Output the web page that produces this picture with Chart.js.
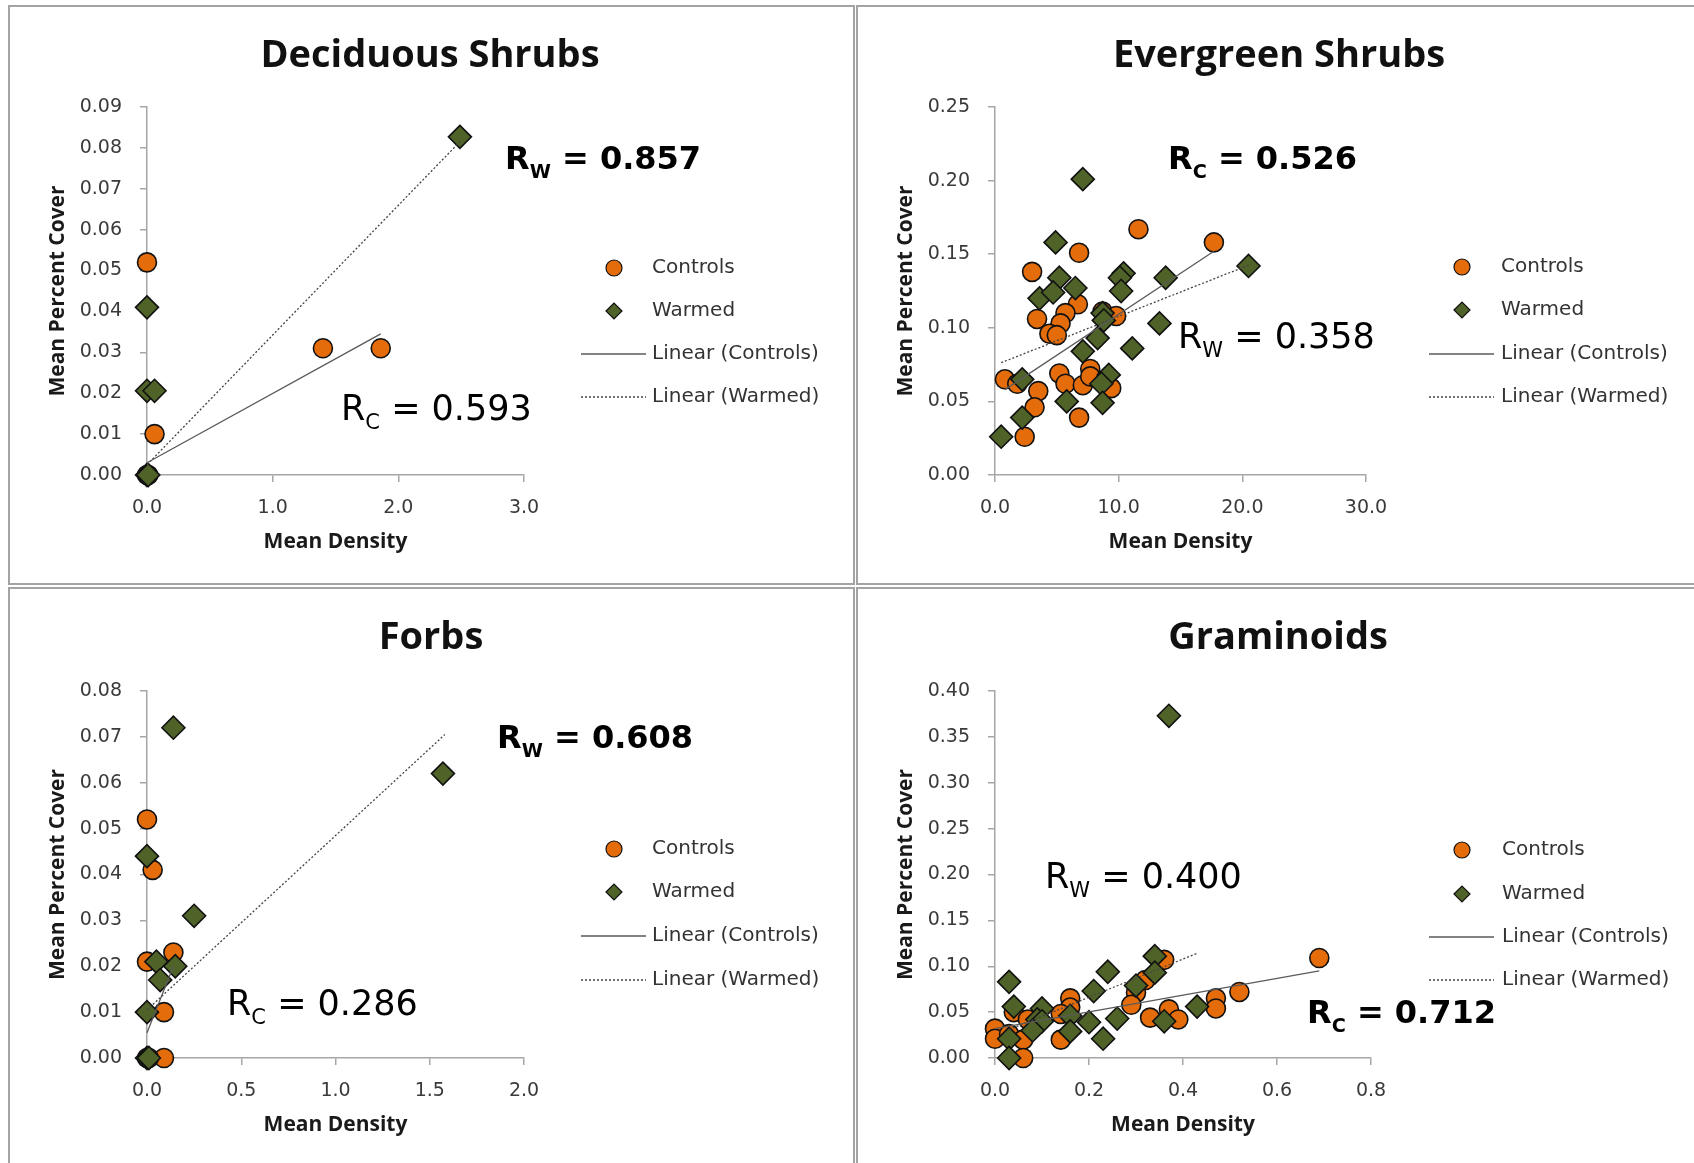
<!DOCTYPE html>
<html>
<head>
<meta charset="utf-8">
<script src="https://cdn.jsdelivr.net/npm/chart.js@4.4.1/dist/chart.umd.min.js"></script>
<style>
  html, body { margin: 0; padding: 0; background: #fff; }
  body { width: 1694px; height: 1163px; position: relative; overflow: hidden; }
  .panel { position: absolute; border: 2px solid #a3a3a3; box-sizing: border-box; }
  canvas { position: absolute; }
  .title { position: absolute; width: 600px; text-align: center; font: bold 38px 'Open Sans', sans-serif; line-height: 38px; color: #111; }
  .r { position: absolute; font-family: 'DejaVu Sans', sans-serif; color: #000; white-space: nowrap; line-height: 1; }
  .r.n { font-size: 35px; }
  .r.b { font-size: 32px; font-weight: bold; }
  .r span { font-size: 0.6em; vertical-align: -0.45em; }
</style>
</head>
<body>
<div class="panel" style="left:8px;top:5px;width:847px;height:580px"></div>
<div class="panel" style="left:856px;top:5px;width:900px;height:580px"></div>
<div class="panel" style="left:8px;top:587px;width:847px;height:600px"></div>
<div class="panel" style="left:856px;top:587px;width:900px;height:600px"></div>

<canvas id="c1" width="855" height="585" style="left:0;top:0"></canvas>
<canvas id="c2" width="839" height="585" style="left:855px;top:0"></canvas>
<canvas id="c3" width="855" height="576" style="left:0;top:587px"></canvas>
<canvas id="c4" width="839" height="576" style="left:855px;top:587px"></canvas>

<div class="title" style="left:130px;top:33px">Deciduous Shrubs</div>
<div class="title" style="left:979px;top:33px">Evergreen Shrubs</div>
<div class="title" style="left:131px;top:615px">Forbs</div>
<div class="title" style="left:978px;top:615px">Graminoids</div>

<div class="r b" style="left:505px;top:142px">R<span>W</span> = 0.857</div>
<div class="r n" style="left:341px;top:391px">R<span>C</span> = 0.593</div>
<div class="r b" style="left:1168px;top:142px">R<span>C</span> = 0.526</div>
<div class="r n" style="left:1178px;top:319px">R<span>W</span> = 0.358</div>
<div class="r b" style="left:497px;top:721px">R<span>W</span> = 0.608</div>
<div class="r n" style="left:227px;top:986px">R<span>C</span> = 0.286</div>
<div class="r n" style="left:1045px;top:859px">R<span>W</span> = 0.400</div>
<div class="r b" style="left:1307px;top:996px">R<span>C</span> = 0.712</div>

<script>
// ---- Deciduous shrubs ----
const decControlsX = [0.00, 0.06, 1.40, 1.86, 0.00, 0.01];
const decControlsY = [0.052, 0.010, 0.031, 0.031, 0.000, 0.000];
const decWarmedX = [2.49, 0.00, 0.00, 0.06, 0.00, 0.01];
const decWarmedY = [0.0827, 0.041, 0.0206, 0.0206, 0.000, 0.000];
const decTrendControlsX = [0.00, 1.86];
const decTrendControlsY = [0.0030, 0.0345];
const decTrendWarmedX = [0.00, 2.49];
const decTrendWarmedY = [0.0025, 0.0815];
const decXTicks = [0, 1, 2, 3];
const decYTicks = [0, 0.01, 0.02, 0.03, 0.04, 0.05, 0.06, 0.07, 0.08, 0.09];

// ---- Evergreen shrubs ----
const evgControlsX = [11.6, 17.7, 6.8, 3.0, 6.7, 5.7, 3.4, 5.3, 4.4, 5.0, 8.7, 9.8, 0.8, 1.8, 3.5, 3.2, 2.4, 6.8, 5.2, 5.7, 7.1, 7.7, 7.7, 9.4];
const evgControlsY = [0.167, 0.158, 0.151, 0.138, 0.116, 0.110, 0.106, 0.103, 0.096, 0.095, 0.111, 0.108, 0.065, 0.062, 0.057, 0.046, 0.026, 0.039, 0.069, 0.062, 0.061, 0.072, 0.067, 0.059];
const evgWarmedX = [7.1, 4.9, 5.2, 3.6, 4.7, 6.5, 10.4, 10.1, 10.2, 13.8, 20.5, 13.3, 8.7, 8.8, 8.3, 7.1, 11.1, 2.2, 9.2, 8.6, 5.8, 8.7, 2.2, 0.5];
const evgWarmedY = [0.201, 0.158, 0.134, 0.120, 0.124, 0.127, 0.137, 0.134, 0.125, 0.134, 0.142, 0.103, 0.110, 0.105, 0.093, 0.084, 0.086, 0.065, 0.068, 0.062, 0.050, 0.049, 0.039, 0.026];
const evgTrendControlsX = [0.8, 17.7];
const evgTrendControlsY = [0.058, 0.152];
const evgTrendWarmedX = [0.5, 20.5];
const evgTrendWarmedY = [0.0763, 0.1425];
const evgXTicks = [0, 10, 20, 30];
const evgYTicks = [0, 0.05, 0.10, 0.15, 0.20, 0.25];

// ---- Forbs ----
const forbControlsX = [0.00, 0.03, 0.00, 0.14, 0.09, 0.09, 0.00, 0.01];
const forbControlsY = [0.052, 0.041, 0.021, 0.023, 0.010, 0.000, 0.000, 0.000];
const forbWarmedX = [0.14, 0.00, 0.25, 0.05, 0.15, 0.07, 0.00, 1.57, 0.00, 0.01];
const forbWarmedY = [0.072, 0.044, 0.031, 0.021, 0.020, 0.017, 0.010, 0.062, 0.000, 0.000];
const forbTrendControlsX = [0.00, 0.14];
const forbTrendControlsY = [0.0055, 0.020];
const forbTrendWarmedX = [0.00, 1.58];
const forbTrendWarmedY = [0.0105, 0.0705];
const forbXTicks = [0, 0.5, 1.0, 1.5, 2.0];
const forbYTicks = [0, 0.01, 0.02, 0.03, 0.04, 0.05, 0.06, 0.07, 0.08];

// ---- Graminoids ----
const gramControlsX = [0.69, 0.36, 0.32, 0.30, 0.29, 0.52, 0.47, 0.47, 0.37, 0.33, 0.39, 0.16, 0.16, 0.14, 0.14, 0.04, 0.07, 0.00, 0.00, 0.03, 0.06, 0.06];
const gramControlsY = [0.109, 0.107, 0.085, 0.071, 0.058, 0.072, 0.065, 0.054, 0.053, 0.044, 0.042, 0.065, 0.055, 0.048, 0.020, 0.050, 0.042, 0.032, 0.021, 0.026, 0.020, 0.000];
const gramWarmedX = [0.37, 0.03, 0.24, 0.21, 0.34, 0.34, 0.30, 0.04, 0.10, 0.09, 0.10, 0.08, 0.16, 0.16, 0.20, 0.23, 0.26, 0.36, 0.43, 0.03, 0.03];
const gramWarmedY = [0.373, 0.083, 0.094, 0.073, 0.111, 0.093, 0.079, 0.056, 0.054, 0.042, 0.040, 0.030, 0.046, 0.029, 0.039, 0.021, 0.043, 0.040, 0.056, 0.021, 0.000];
const gramTrendControlsX = [0.00, 0.69];
const gramTrendControlsY = [0.032, 0.095];
const gramTrendWarmedX = [0.03, 0.43];
const gramTrendWarmedY = [0.031, 0.114];
const gramXTicks = [0, 0.2, 0.4, 0.6, 0.8];
const gramYTicks = [0, 0.05, 0.10, 0.15, 0.20, 0.25, 0.30, 0.35, 0.40];

const ORANGE = '#E46C0A';
const GREEN = '#4F6228';
const EDGE = '#111111';

function pts(xs, ys) {
  return xs.map((x, i) => ({ x: x, y: ys[i] }));
}

// legend drawn at a fixed spot right of the plot
const sideLegend = {
  id: 'sideLegend',
  afterDraw(chart, args, opts) {
    const ctx = chart.ctx;
    ctx.save();
    chart.data.datasets.forEach((ds, i) => {
      const y = opts.rows[i];
      if (ds.showLine) {
        ctx.strokeStyle = ds.borderColor;
        ctx.lineWidth = 1.3;
        ctx.setLineDash(ds.borderDash || []);
        ctx.beginPath();
        ctx.moveTo(opts.lineFrom, y);
        ctx.lineTo(opts.lineTo, y);
        ctx.stroke();
        ctx.setLineDash([]);
      } else {
        ctx.fillStyle = ds.backgroundColor;
        ctx.strokeStyle = ds.borderColor;
        ctx.lineWidth = 1.2;
        Chart.helpers.drawPoint(ctx, {
          pointStyle: ds.pointStyle,
          radius: 8,
          borderWidth: 1.2,
          rotation: 0
        }, opts.markerX, y);
      }
      ctx.fillStyle = '#333';
      ctx.font = '20px "DejaVu Sans"';
      ctx.textBaseline = 'middle';
      ctx.textAlign = 'left';
      ctx.fillText(ds.label, opts.textX, y);
    });
    ctx.restore();
  }
};

function axis(title, ticks, decimals, isY) {
  return {
    type: 'linear',
    min: ticks[0],
    max: ticks[ticks.length - 1],
    afterBuildTicks: s => { s.ticks = ticks.map(v => ({ value: v })); },
    afterFit: s => { if (isY) s.width = 102; else s.height = 80; },
    border: { display: true, color: '#a6a6a6', width: 1.5 },
    grid: { display: true, drawOnChartArea: false, drawTicks: true, tickLength: 7, color: '#a6a6a6', lineWidth: 1.5 },
    ticks: {
      padding: isY ? 18 : 15,
      color: '#3a3a3a',
      font: { family: 'DejaVu Sans', size: 19 },
      maxRotation: 0,
      autoSkip: false,
      callback: v => Number(v).toFixed(decimals)
    },
    title: {
      display: true,
      text: title,
      color: '#1a1a1a',
      font: { family: 'Open Sans', weight: 'bold', size: 21, lineHeight: 1.2 },
      padding: 0
    }
  };
}

function makeChart(id, d, layout, legend) {
  return new Chart(document.getElementById(id), {
    type: 'scatter',
    data: {
      datasets: [
        { label: 'Controls', data: pts(d.cx, d.cy), pointStyle: 'circle', pointRadius: 9.5, pointHoverRadius: 9.5,
          backgroundColor: ORANGE, borderColor: EDGE, borderWidth: 1.6, order: 3, clip: false },
        { label: 'Warmed', data: pts(d.wx, d.wy), pointStyle: 'rectRot', pointRadius: 11.5, pointHoverRadius: 11.5,
          backgroundColor: GREEN, borderColor: EDGE, borderWidth: 1.6, order: 2, clip: false },
        { label: 'Linear (Controls)', data: pts(d.tcx, d.tcy), showLine: true, pointRadius: 0,
          borderColor: '#5a5a5a', borderWidth: 1.3, order: 1, clip: false },
        { label: 'Linear (Warmed)', data: pts(d.twx, d.twy), showLine: true, pointRadius: 0,
          borderColor: '#444444', borderWidth: 1.3, borderDash: [2, 2], order: 1, clip: false }
      ]
    },
    options: {
      responsive: false,
      animation: false,
      layout: { padding: layout },
      scales: {
        x: axis('Mean Density', d.xTicks, 1, false),
        y: axis('Mean Percent Cover', d.yTicks, 2, true)
      },
      plugins: {
        legend: { display: false },
        tooltip: { enabled: false },
        sideLegend: legend
      }
    },
    plugins: [sideLegend]
  });
}

makeChart('c1', {
  cx: decControlsX, cy: decControlsY, wx: decWarmedX, wy: decWarmedY,
  tcx: decTrendControlsX, tcy: decTrendControlsY, twx: decTrendWarmedX, twy: decTrendWarmedY,
  xTicks: decXTicks, yTicks: decYTicks
}, { left: 45, right: 331, top: 107, bottom: 30 },
   { markerX: 614, textX: 652, lineFrom: 581, lineTo: 646, rows: [268, 311, 354, 397] });

makeChart('c2', {
  cx: evgControlsX, cy: evgControlsY, wx: evgWarmedX, wy: evgWarmedY,
  tcx: evgTrendControlsX, tcy: evgTrendControlsY, twx: evgTrendWarmedX, twy: evgTrendWarmedY,
  xTicks: evgXTicks, yTicks: evgYTicks
}, { left: 38, right: 328, top: 107, bottom: 30 },
   { markerX: 607, textX: 646, lineFrom: 574, lineTo: 639, rows: [267, 310, 354, 397] });

makeChart('c3', {
  cx: forbControlsX, cy: forbControlsY, wx: forbWarmedX, wy: forbWarmedY,
  tcx: forbTrendControlsX, tcy: forbTrendControlsY, twx: forbTrendWarmedX, twy: forbTrendWarmedY,
  xTicks: forbXTicks, yTicks: forbYTicks
}, { left: 45, right: 331, top: 104, bottom: 25 },
   { markerX: 614, textX: 652, lineFrom: 581, lineTo: 646, rows: [262, 305, 349, 393] });

makeChart('c4', {
  cx: gramControlsX, cy: gramControlsY, wx: gramWarmedX, wy: gramWarmedY,
  tcx: gramTrendControlsX, tcy: gramTrendControlsY, twx: gramTrendWarmedX, twy: gramTrendWarmedY,
  xTicks: gramXTicks, yTicks: gramYTicks
}, { left: 38, right: 323, top: 104, bottom: 25 },
   { markerX: 607, textX: 647, lineFrom: 574, lineTo: 639, rows: [263, 307, 350, 393] });
</script>
</body>
</html>
